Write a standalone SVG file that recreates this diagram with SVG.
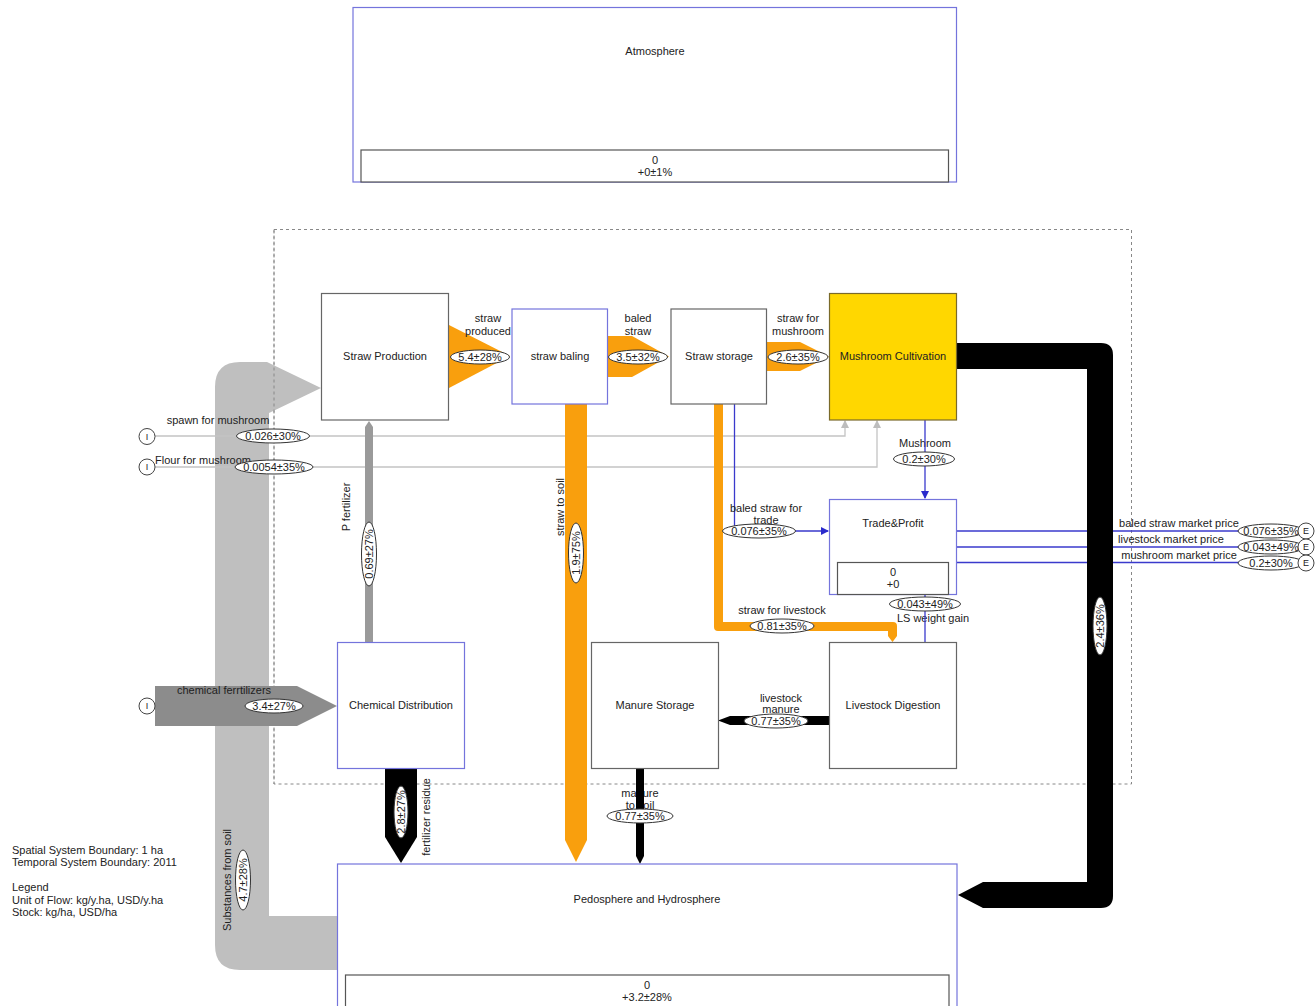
<svg xmlns="http://www.w3.org/2000/svg" width="1316" height="1006" viewBox="0 0 1316 1006">
<style>
.t{font-family:"Liberation Sans",Arial,sans-serif;font-size:11px;fill:#222;text-anchor:middle;dominant-baseline:central}
.tl{font-family:"Liberation Sans",Arial,sans-serif;font-size:11px;fill:#222;text-anchor:start;dominant-baseline:central}
.ng{fill:#fff;stroke:#666;stroke-width:1.2}
.nb{fill:#fff;stroke:#7474dc;stroke-width:1.2}
.st{fill:#fff;stroke:#555;stroke-width:1.2}
.el{fill:#fff;stroke:#333;stroke-width:1}
.ci{fill:#fff;stroke:#444;stroke-width:1}
.lg{fill:none;stroke:#c4c4c4;stroke-width:1.3}
.lb{fill:none;stroke:#3a3acc;stroke-width:1.3}
.or{fill:#f99f0d}
.bk{fill:#000}
</style>
<defs>
<marker id="ab" markerWidth="8" markerHeight="8" refX="7" refY="4" orient="auto" markerUnits="userSpaceOnUse"><path d="M0,0 L8,4 L0,8 Z" fill="#2a2acc"/></marker>
<marker id="ag" markerWidth="8" markerHeight="8" refX="7" refY="4" orient="auto" markerUnits="userSpaceOnUse"><path d="M0,0 L8,4 L0,8 Z" fill="#bdbdbd"/></marker>
</defs>
<rect width="1316" height="1006" fill="#fff"/>

<!-- system boundary -->
<rect x="274" y="229.5" width="857.5" height="554.5" fill="none" stroke="#888" stroke-width="1" stroke-dasharray="3,3"/>

<g id="connectors">
  <!-- Substances from soil -->
  <path d="M337,916 L269,916 L269,413 L321,388 L267,362 L240,362 Q215,362 215,387 L215,945 Q215,970 240,970 L337,970 Z" fill="#bfbfbf"/>
  <text class="t" transform="translate(227,880) rotate(-90)">Substances from soil</text>
  <g transform="translate(243,880) rotate(-90)"><ellipse class="el" rx="30" ry="7.5"/><text class="t">4.7±28%</text></g>

  <!-- dashed boundary over gray band -->
  <line x1="274" y1="229.5" x2="274" y2="784" stroke="#888" stroke-width="1" stroke-dasharray="3,3"/>

  <!-- spawn / flour -->
  <polyline class="lg" points="155,436 845,436 845,421" marker-end="url(#ag)"/>
  <polyline class="lg" points="155,467 877,467 877,421" marker-end="url(#ag)"/>
  <text class="t" x="218" y="420">spawn for mushroom</text>
  <text class="t" x="203" y="460">Flour for mushroom</text>

  <!-- P fertilizer -->
  <path d="M365,642 L365,427 L369,421 L373,427 L373,642 Z" fill="#9a9a9a"/>
  <text class="t" transform="translate(346,507) rotate(-90)">P fertilizer</text>
  <g transform="translate(369,554) rotate(-90)"><ellipse class="el" rx="32" ry="7.5"/><text class="t">0.69±27%</text></g>

  <g transform="translate(273,436)"><ellipse class="el" rx="36.5" ry="7"/><text class="t">0.026±30%</text></g>
  <g transform="translate(274,467)"><ellipse class="el" rx="39" ry="7"/><text class="t">0.0054±35%</text></g>

  <!-- chemical fertilizers -->
  <path d="M155,686 L297,686 L337,706 L297,726 L155,726 Z" fill="#8c8c8c"/>
  <text class="t" x="224" y="690">chemical ferrtilizers</text>
  <g transform="translate(274,706)"><ellipse class="el" rx="29" ry="7"/><text class="t">3.4±27%</text></g>

  <!-- straw produced -->
  <path d="M449,325 L510,356 L449,388 Z" class="or"/>
  <text class="t" x="488" y="318">straw</text>
  <text class="t" x="488" y="331">produced</text>
  <g transform="translate(480,357)"><ellipse class="el" rx="29.5" ry="7"/><text class="t">5.4±28%</text></g>

  <!-- baled straw -->
  <path d="M608,336 L632,336 L669,356.5 L632,377 L608,377 Z" class="or"/>
  <text class="t" x="638" y="318">baled</text>
  <text class="t" x="638" y="331">straw</text>
  <g transform="translate(638,357)"><ellipse class="el" rx="29.5" ry="7"/><text class="t">3.5±32%</text></g>

  <!-- straw for mushroom -->
  <path d="M767,342 L800,342 L829,356.5 L800,371 L767,371 Z" class="or"/>
  <text class="t" x="798" y="318">straw for</text>
  <text class="t" x="798" y="331">mushroom</text>
  <g transform="translate(798,357)"><ellipse class="el" rx="30" ry="7"/><text class="t">2.6±35%</text></g>

  <!-- straw to soil -->
  <path d="M565,404 L587,404 L587,840 L576,862 L565,840 Z" class="or"/>
  <text class="t" transform="translate(560,507) rotate(-90)">straw to soil</text>
  <g transform="translate(576,553)"><g transform="rotate(-90)"><ellipse class="el" rx="30" ry="7.5"/><text class="t">1.9±75%</text></g></g>

  <!-- straw for livestock -->
  <path d="M714,404 L723,404 L723,622 L893,622 Q897,622 897,626 L897,636 L892.5,642 L888,636 L888,631 L718,631 Q714,631 714,627 Z" class="or"/>
  <text class="t" x="782" y="610">straw for livestock</text>
  <g transform="translate(782,626)"><ellipse class="el" rx="32" ry="7"/><text class="t">0.81±35%</text></g>

  <!-- baled straw for trade -->
  <polyline class="lb" points="734.5,404 734.5,531 828,531" marker-end="url(#ab)"/>
  <text class="t" x="766" y="508">baled straw for</text>
  <text class="t" x="766" y="520">trade</text>
  <g transform="translate(759,531)"><ellipse class="el" rx="36.5" ry="7"/><text class="t">0.076±35%</text></g>

  <!-- Mushroom -->
  <text class="t" x="925" y="443">Mushroom</text>
  <line class="lb" x1="925" y1="420" x2="925" y2="498" marker-end="url(#ab)" stroke-width="1.6"/>
  <g transform="translate(924,459)"><ellipse class="el" rx="30.5" ry="7"/><text class="t">0.2±30%</text></g>

  <!-- LS weight gain -->
  <text class="t" x="933" y="618">LS weight gain</text>
  <line class="lb" x1="925" y1="642" x2="925" y2="595"/>
  <g transform="translate(925,604)"><ellipse class="el" rx="35.5" ry="7"/><text class="t">0.043±49%</text></g>

  <!-- market prices -->
  <line class="lb" x1="957" y1="531" x2="1298" y2="531"/>
  <line class="lb" x1="957" y1="547" x2="1298" y2="547"/>
  <line class="lb" x1="957" y1="562.5" x2="1298" y2="562.5" stroke-width="1.6"/>

  <!-- Mushroom output to soil -->
  <path d="M957,343 L1101,343 Q1113,343 1113,355 L1113,896 Q1113,908 1101,908 L983,908 L958,895 L983,882 L1087,882 L1087,369 L957,369 Z" class="bk"/>
  <g transform="translate(1100,626) rotate(-90)"><ellipse class="el" rx="29" ry="7"/><text class="t">2.4±36%</text></g>

  <text class="t" x="1179" y="523">baled straw market price</text>
  <text class="t" x="1171" y="539">livestock market price</text>
  <text class="t" x="1179" y="555">mushroom market price</text>
  <g transform="translate(1271,531)"><ellipse class="el" rx="33" ry="7"/><text class="t">0.076±35%</text></g>
  <g transform="translate(1271,547)"><ellipse class="el" rx="33" ry="7"/><text class="t">0.043±49%</text></g>
  <g transform="translate(1271,563)"><ellipse class="el" rx="33" ry="7"/><text class="t">0.2±30%</text></g>

  <!-- livestock manure -->
  <text class="t" x="781" y="698">livestock</text>
  <text class="t" x="781" y="709">manure</text>
  <path d="M829,716 L730,716 L718,720.5 L730,725 L829,725 Z" class="bk"/>
  <g transform="translate(776,721)"><ellipse class="el" rx="32" ry="7"/><text class="t">0.77±35%</text></g>

  <!-- manure to soil -->
  <text class="t" x="640" y="793">manure</text>
  <text class="t" x="640" y="805">to soil</text>
  <path d="M636,768 L644,768 L644,856 L640,864 L636,856 Z" class="bk"/>
  <g transform="translate(640,816)"><ellipse class="el" rx="33" ry="7"/><text class="t">0.77±35%</text></g>

  <!-- fertilizer residue -->
  <path d="M385,768 L417,768 L417,837 L401,863 L385,837 Z" class="bk"/>
  <g transform="translate(401,812) rotate(-90)"><ellipse class="el" rx="26" ry="7"/><text class="t">2.8±27%</text></g>
  <text class="t" transform="translate(426,817) rotate(-90)">fertilizer residue</text>

  <!-- import / export circles -->
  <g><circle class="ci" cx="147" cy="436.5" r="8"/><text class="t" x="147" y="436.5" style="font-size:9px">I</text></g>
  <g><circle class="ci" cx="147" cy="467" r="8"/><text class="t" x="147" y="467" style="font-size:9px">I</text></g>
  <g><circle class="ci" cx="147" cy="706" r="8"/><text class="t" x="147" y="706" style="font-size:9px">I</text></g>
  <g><circle class="ci" cx="1306" cy="531" r="8"/><text class="t" x="1306" y="531" style="font-size:9px">E</text></g>
  <g><circle class="ci" cx="1306" cy="547" r="8"/><text class="t" x="1306" y="547" style="font-size:9px">E</text></g>
  <g><circle class="ci" cx="1306" cy="563" r="8"/><text class="t" x="1306" y="563" style="font-size:9px">E</text></g>
</g>

<g id="atmosphere">
  <rect class="nb" x="353" y="7.5" width="603.5" height="174.5"/>
  <rect class="st" x="361" y="150" width="587.5" height="32"/>
  <text class="t" x="655" y="51">Atmosphere</text>
  <text class="t" x="655" y="160">0</text>
  <text class="t" x="655" y="172">+0±1%</text>
</g>

<g id="straw-production">
  <rect class="ng" x="321.5" y="293.5" width="127" height="126.5"/>
  <text class="t" x="385" y="356">Straw Production</text>
</g>

<g id="straw-baling">
  <rect class="nb" x="512" y="309" width="95.5" height="95"/>
  <text class="t" x="560" y="356">straw baling</text>
</g>

<g id="straw-storage">
  <rect class="ng" x="671" y="309" width="95.5" height="95"/>
  <text class="t" x="719" y="356">Straw storage</text>
</g>

<g id="mushroom-cultivation">
  <rect x="829.5" y="293.5" width="127" height="126.5" fill="#ffd700" stroke="#7a6a2a" stroke-width="1.2"/>
  <text class="t" x="893" y="356">Mushroom Cultivation</text>
</g>

<g id="trade-profit">
  <rect class="nb" x="829.5" y="499.5" width="127" height="95"/>
  <rect class="st" x="837.5" y="562.5" width="111" height="32"/>
  <text class="t" x="893" y="523">Trade&amp;Profit</text>
  <text class="t" x="893" y="572">0</text>
  <text class="t" x="893" y="584">+0</text>
</g>

<g id="chemical-distribution">
  <rect class="nb" x="337.5" y="642.5" width="127" height="126"/>
  <text class="t" x="401" y="705">Chemical Distribution</text>
</g>

<g id="manure-storage">
  <rect class="ng" x="591.5" y="642.5" width="127" height="126"/>
  <text class="t" x="655" y="705">Manure Storage</text>
</g>

<g id="livestock-digestion">
  <rect class="ng" x="829.5" y="642.5" width="127" height="126"/>
  <text class="t" x="893" y="705">Livestock Digestion</text>
</g>

<g id="pedosphere">
  <rect class="nb" x="337.5" y="864" width="619.5" height="150"/>
  <rect class="st" x="345.5" y="975" width="603.5" height="40"/>
  <text class="t" x="647" y="899">Pedosphere and Hydrosphere</text>
  <text class="t" x="647" y="985">0</text>
  <text class="t" x="647" y="997">+3.2±28%</text>
</g>

<g id="legend">
  <text class="tl" x="12" y="850">Spatial System Boundary: 1 ha</text>
  <text class="tl" x="12" y="862">Temporal System Boundary: 2011</text>
  <text class="tl" x="12" y="887">Legend</text>
  <text class="tl" x="12" y="900">Unit of Flow: kg/y.ha, USD/y.ha</text>
  <text class="tl" x="12" y="912">Stock: kg/ha, USD/ha</text>
</g>
</svg>
